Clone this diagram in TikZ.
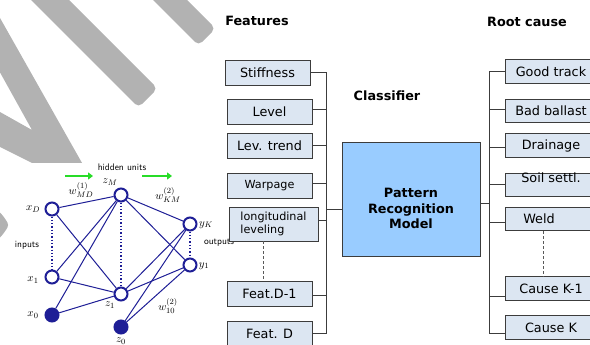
\documentclass[tikz,border=0pt]{standalone}
\usepackage{fontspec}
\setmainfont{DejaVu Sans}
\usetikzlibrary{calc,arrows.meta}

\definecolor{boxfill}{RGB}{220,230,242}
\definecolor{modelfill}{RGB}{153,204,255}
\definecolor{edge}{RGB}{60,60,60}
\definecolor{netblue}{RGB}{30,30,150}
\definecolor{markgrey}{RGB}{178,178,178}
\definecolor{arrowgreen}{RGB}{40,220,40}

\begin{document}
\begin{tikzpicture}[x=1pt,y=-1pt,
  boxfont/.style={font=\fontsize{12.8}{15}\selectfont},
  smallfont/.style={font=\fontsize{11.2}{13.5}\selectfont},
  feat/.style={draw=edge, fill=boxfill, line width=0.9pt, minimum width=85pt,
    minimum height=25pt, inner sep=0pt, boxfont},
  cause/.style={feat, minimum width=92pt, minimum height=23.5pt},
  conn/.style={draw=edge, line width=0.9pt},
  dashline/.style={draw=edge!85, line width=1pt, dash pattern=on 3pt off 2pt},
  heading/.style={font=\fontsize{12.8}{15}\selectfont\bfseries},
  unit/.style={circle, draw=netblue, fill=white, line width=2pt,
    minimum size=13pt, inner sep=0pt},
  biasunit/.style={unit, fill=netblue},
  wire/.style={draw=netblue, line width=1pt},
  netdots/.style={draw=netblue, line width=1.3pt, dotted},
  mathlab/.style={font=\fontsize{10.95}{13}\selectfont, inner sep=0pt},
  netlab/.style={font=\sffamily\fontsize{9.5}{11}\selectfont, inner sep=0pt},
  flowarrow/.style={draw=arrowgreen, line width=2.4pt,
    -{Triangle[length=5pt,width=7pt]}}
]
\useasboundingbox (0,0) rectangle (590,345);
\clip (0,0) rectangle (590,345);

% ---- grey mark in the upper left corner ----
\fill[markgrey, rounded corners=5pt]
  (29.5,-39.5) -- (157.5,88.5) -- (138.5,107.5) -- (10.5,-20.5) -- cycle;
\fill[markgrey, rounded corners=5pt]
  (148.5,-38.5) -- (215.5,28.5) -- (198.5,45.5) -- (131.5,-21.5) -- cycle;
\fill[markgrey]
  (-13,-5) -- (86,170) -- (46,170) -- (-10,142) -- (-10,106.4)
  -- (32,130) -- (-43,-5) -- cycle;
\fill[markgrey, rounded corners=3pt]
  (-4,208) -- (4,217) -- (9,225) -- (4,233) -- (-4,242) -- cycle;

% ---- two-layer network ----
\fill[white] (10,163) rectangle (236,345);

\node[netlab] (hid) at (122,167) {hidden units};
\coordinate (ga1) at (65,176);
\coordinate (ga2) at (93,176);
\coordinate (gb1) at (142,176);
\coordinate (gb2) at (172,176);
\draw[flowarrow] (ga1) -- (ga2);
\draw[flowarrow] (gb1) -- (gb2);

\node[unit] (xD) at (52,209) {};
\node[unit] (x1) at (52,277) {};
\node[biasunit] (x0) at (52,315) {};
\node[unit] (zM) at (121,195) {};
\node[unit] (z1) at (121,294) {};
\node[biasunit] (z0) at (121,327) {};
\node[unit] (yK) at (190,224) {};
\node[unit] (y1) at (190,265) {};

\foreach \a in {xD,x1,x0} {
  \foreach \b in {zM,z1} { \draw[wire] (\a) -- (\b); }
}
\foreach \a in {zM,z1,z0} {
  \foreach \b in {yK,y1} { \draw[wire] (\a) -- (\b); }
}
\draw[netdots] (xD) -- (x1);
\draw[netdots] (zM) -- (z1);
\draw[netdots] (yK) -- (y1);

\node[mathlab] (lzM) at (110,182) {$z_M$};
\node[mathlab] (lw1) at (81,190) {$w^{(1)}_{MD}$};
\node[mathlab] (lxD) at (33,209) {$x_D$};
\node[netlab] (linp) at (27,245) {inputs};
\node[mathlab] (lx1) at (33,280) {$x_1$};
\node[mathlab] (lx0) at (33,315) {$x_0$};
\node[mathlab] (lz1) at (110,305) {$z_1$};
\node[mathlab] (lz0) at (121,341) {$z_0$};
\node[mathlab] (lw2) at (168,195) {$w^{(2)}_{KM}$};
\node[mathlab] (lyK) at (206,225) {$y_K$};
\node[netlab] (lout) at (219,243) {outputs};
\node[mathlab] (ly1) at (204,266) {$y_1$};
\node[mathlab] (lw3) at (168,306) {$w^{(2)}_{10}$};

% ---- headings ----
\node[heading] (tFeat) at (257,21) {Features};
\node[heading] (tClass) at (387,96) {Classifier};
\node[heading] (tRoot) at (527,22) {Root cause};

% ---- feature boxes ----
\node[feat] (stiff) at (267.5,72.5) {Stiffness};
\node[feat] (level) at (269.5,111.5) {Level};
\node[feat] (levtr) at (269.5,145.5) {Lev. trend};
\node[feat, smallfont] (warp) at (269.5,185.5) {Warpage};
\node[feat, smallfont, minimum width=89pt, minimum height=34pt, align=left]
  (longl) at (273.5,224) {longitudinal\\leveling};
\node[feat] (fd1) at (269.5,293.5) {Feat.D-1};
\node[feat] (fD) at (269.5,333.5) {Feat. D};

% ---- classifier ----
\node[draw=edge, fill=modelfill, line width=1pt, minimum width=138pt,
  minimum height=113pt] (model) at (411,199.5) {};
\node[heading, align=center, font=\fontsize{12.8}{15.6}\selectfont\bfseries]
  (modeltxt) at (411,208.5) {Pattern\\Recognition\\Model};

% ---- root cause boxes ----
\node[cause] (gt) at (551,71.5) {Good track};
\node[cause] (bb) at (551,111) {Bad ballast};
\node[cause] (dr) at (551,145.5) {Drainage};
\node[cause] (soil) at (551,185) {};
\node[boxfont, inner sep=0pt] (soiltxt) at (551,177.5) {Soil settl.};
\node[cause] (weld) at (551,219) {};
\node[boxfont, inner sep=0pt] (weldtxt) at (539,219) {Weld};
\node[cause] (ck1) at (551,288.5) {Cause K-1};
\node[cause] (ck) at (551,327.5) {Cause K};

% ---- connectors, left side ----
\coordinate (lb) at (326,209);
\draw[conn] (stiff.east) -| (lb);
\draw[conn] (fD.east) -| (lb);
\draw[conn] ([yshift=2.5pt]level.east) -- ([yshift=2.5pt]level.east -| lb);
\draw[conn] (levtr.east) -- (levtr.east -| lb);
\draw[conn] ([yshift=2.5pt]warp.east) -- ([yshift=2.5pt]warp.east -| lb);
\draw[conn] ([yshift=4pt]longl.east) -- ([yshift=4pt]longl.east -| lb);
\draw[conn] ([yshift=-1.5pt]fd1.east) -- ([yshift=-1.5pt]fd1.east -| lb);
\draw[conn] (lb) -- (lb -| model.west);
\draw[dashline] ($(longl.south)+(-10.5,0)$) -- ($(fd1.north)+(-6.5,0)$);

% ---- connectors, right side ----
\coordinate (rb) at (489,203);
\draw[conn] (model.east |- rb) -- (rb);
\draw[conn] (gt.west) -| (rb);
\draw[conn] ([yshift=-5.5pt]ck.west) -| (rb);
\draw[conn] ([yshift=2pt]bb.west) -- ([yshift=2pt]bb.west -| rb);
\draw[conn] ([yshift=-1.5pt]dr.west) -- ([yshift=-1.5pt]dr.west -| rb);
\draw[conn] ([yshift=1pt]soil.west) -- ([yshift=1pt]soil.west -| rb);
\draw[conn] ([yshift=-3pt]weld.west) -- ([yshift=-3pt]weld.west -| rb);
\draw[conn] ([yshift=-7.5pt]ck1.west) -- ([yshift=-7.5pt]ck1.west -| rb);
\draw[dashline] ($(weld.south)+(-8,0)$) -- ($(ck1.north)+(-8,0)$);
\end{tikzpicture}
\end{document}
